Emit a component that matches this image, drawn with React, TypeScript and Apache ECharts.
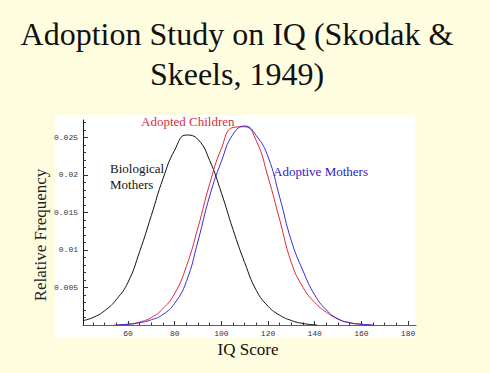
import React, { useEffect, useRef } from "react";
import * as echarts from "echarts";

// IQ score sample points and relative frequency values
const iqBio = [41, 45, 50, 55, 60, 65, 70, 75, 80, 85, 90, 95, 100, 105, 110, 115, 120, 125, 130, 135, 141];
const biologicalMothers = [0.0006, 0.001, 0.0019, 0.0034, 0.0057, 0.0098, 0.0146, 0.0195, 0.0233, 0.0253, 0.0247, 0.0219, 0.0176, 0.0127, 0.0083, 0.0046, 0.0025, 0.0013, 0.0006, 0.0002, 0.0];

const iqChild = [54, 60, 65, 70, 75, 80, 85, 90, 95, 100, 105, 110, 115, 120, 125, 130, 135, 140, 145, 150, 155, 160, 164];
const adoptedChildren = [0.0, 0.0001, 0.0004, 0.001, 0.0022, 0.0042, 0.0078, 0.013, 0.0188, 0.0235, 0.0263, 0.0264, 0.0245, 0.0197, 0.014, 0.0083, 0.005, 0.003, 0.0017, 0.0008, 0.0003, 0.0001, 0.0];

const iqAdoptive = [55, 60, 65, 70, 75, 80, 85, 90, 95, 100, 105, 110, 115, 120, 125, 130, 135, 140, 145, 150, 155, 160, 165];
const adoptiveMothers = [0.0, 0.0001, 0.0003, 0.0007, 0.0014, 0.0029, 0.0058, 0.0112, 0.0172, 0.0218, 0.0254, 0.0265, 0.0252, 0.0224, 0.017, 0.0112, 0.0072, 0.004, 0.002, 0.0008, 0.0003, 0.0001, 0.0];

const xLabelValues = [60, 80, 100, 120, 140, 160, 180];
const xMinorValues = [45, 50, 55, 60, 65, 70, 75, 80, 85, 90, 95, 100, 105, 110, 115, 120, 125, 130, 135, 140, 145, 150, 155, 160, 165, 170, 175, 180];
const yLabelValues = [0.005, 0.01, 0.015, 0.02, 0.025];
const yMinorValues = [0.001, 0.002, 0.003, 0.004, 0.005, 0.006, 0.007, 0.008, 0.009, 0.01, 0.011, 0.012, 0.013, 0.014, 0.015, 0.016, 0.017, 0.018, 0.019, 0.02, 0.021, 0.022, 0.023, 0.024, 0.025, 0.026, 0.027];

const titleLines = ["Adoption Study on IQ (Skodak &", "Skeels, 1949)"];

const pairs = (xs: number[], ys: number[]) => xs.map((x, i) => [x, ys[i]]);

const SERIF = "'Liberation Serif', 'Times New Roman', serif";
const MONO = "'Liberation Mono', 'DejaVu Sans Mono', monospace";

export default function App() {
  const ref = useRef<HTMLDivElement>(null);
  useEffect(() => {
    if (!ref.current) return;
    const chart = echarts.init(ref.current, undefined, { renderer: "svg" });
    const xMin = 40.7;
    const xMax = 183.4;
    const yMax = 0.0273;
    const lineSeries = (name: string, xs: number[], ys: number[], color: string) => ({
      name,
      type: "line",
      data: pairs(xs, ys),
      smooth: 0.5,
      showSymbol: false,
      lineStyle: { color, width: 1 },
      z: 3,
    });
    chart.setOption({
      animation: false,
      backgroundColor: "#fffde0",
      grid: { left: 83, right: 74, top: 120, bottom: 48, containLabel: false },
      xAxis: [
        {
          type: "value",
          min: xMin,
          max: xMax,
          position: "bottom",
          axisLine: { show: true, onZero: false, lineStyle: { color: "#5a50b8", width: 1 } },
          axisTick: { show: true, inside: true, length: 4, customValues: xLabelValues, lineStyle: { color: "#333" } },
          axisLabel: {
            show: true,
            customValues: xLabelValues,
            margin: 4,
            fontFamily: MONO,
            fontSize: 8,
            color: "#333",
          },
          splitLine: { show: false },
        },
        {
          type: "value",
          min: xMin,
          max: xMax,
          position: "bottom",
          axisLine: { show: false },
          axisTick: { show: true, inside: true, length: 2.5, customValues: xMinorValues, lineStyle: { color: "#333" } },
          axisLabel: { show: false },
          splitLine: { show: false },
        },
      ],
      yAxis: [
        {
          type: "value",
          min: 0,
          max: yMax,
          position: "left",
          axisLine: { show: true, onZero: false, lineStyle: { color: "#111", width: 1 } },
          axisTick: { show: true, inside: true, length: 5, customValues: yLabelValues, lineStyle: { color: "#333" } },
          axisLabel: {
            show: true,
            customValues: yLabelValues,
            margin: 5,
            fontFamily: MONO,
            fontSize: 8,
            color: "#333",
            formatter: (v: number) => String(+v.toFixed(3)),
          },
          splitLine: { show: false },
        },
        {
          type: "value",
          min: 0,
          max: yMax,
          position: "left",
          axisLine: { show: false },
          axisTick: { show: true, inside: true, length: 3, customValues: yMinorValues, lineStyle: { color: "#333" } },
          axisLabel: { show: false },
          splitLine: { show: false },
        },
      ],
      series: [
        lineSeries("Biological Mothers", iqBio, biologicalMothers, "#111"),
        lineSeries("Adopted Children", iqChild, adoptedChildren, "#e0283c"),
        lineSeries("Adoptive Mothers", iqAdoptive, adoptiveMothers, "#3a2ad8"),
      ],
      graphic: [
        {
          type: "rect",
          z: -10,
          shape: { x: 55, y: 115, width: 360, height: 223 },
          style: { fill: "#ffffff" },
          silent: true,
        },
        {
          type: "text",
          x: 237,
          y: 34,
          style: { text: titleLines[0], font: `32px ${SERIF}`, fill: "#111", textAlign: "center", textVerticalAlign: "middle" },
        },
        {
          type: "text",
          x: 237,
          y: 74,
          style: { text: titleLines[1], font: `32px ${SERIF}`, fill: "#111", textAlign: "center", textVerticalAlign: "middle" },
        },
        {
          type: "text",
          x: 40,
          y: 235,
          rotation: Math.PI / 2,
          style: { text: "Relative Frequency", font: `17px ${SERIF}`, fill: "#222", textAlign: "center", textVerticalAlign: "middle" },
        },
        {
          type: "text",
          x: 248,
          y: 349,
          style: { text: "IQ Score", font: `17px ${SERIF}`, fill: "#111", textAlign: "center", textVerticalAlign: "middle" },
        },
        {
          type: "text",
          x: 141,
          y: 121,
          style: { text: "Adopted Children", font: `13px ${SERIF}`, fill: "#d8303e", textAlign: "left", textVerticalAlign: "middle" },
        },
        {
          type: "text",
          x: 110,
          y: 168,
          style: { text: "Biological", font: `13px ${SERIF}`, fill: "#111", textAlign: "left", textVerticalAlign: "middle" },
        },
        {
          type: "text",
          x: 110,
          y: 184,
          style: { text: "Mothers", font: `13px ${SERIF}`, fill: "#111", textAlign: "left", textVerticalAlign: "middle" },
        },
        {
          type: "text",
          x: 273,
          y: 171,
          style: { text: "Adoptive Mothers", font: `13px ${SERIF}`, fill: "#3020c0", textAlign: "left", textVerticalAlign: "middle" },
        },
      ],
    });
    return () => chart.dispose();
  }, []);
  return <div ref={ref} style={{ position: "fixed", left: 0, top: 0, width: 490, height: 373 }} />;
}
